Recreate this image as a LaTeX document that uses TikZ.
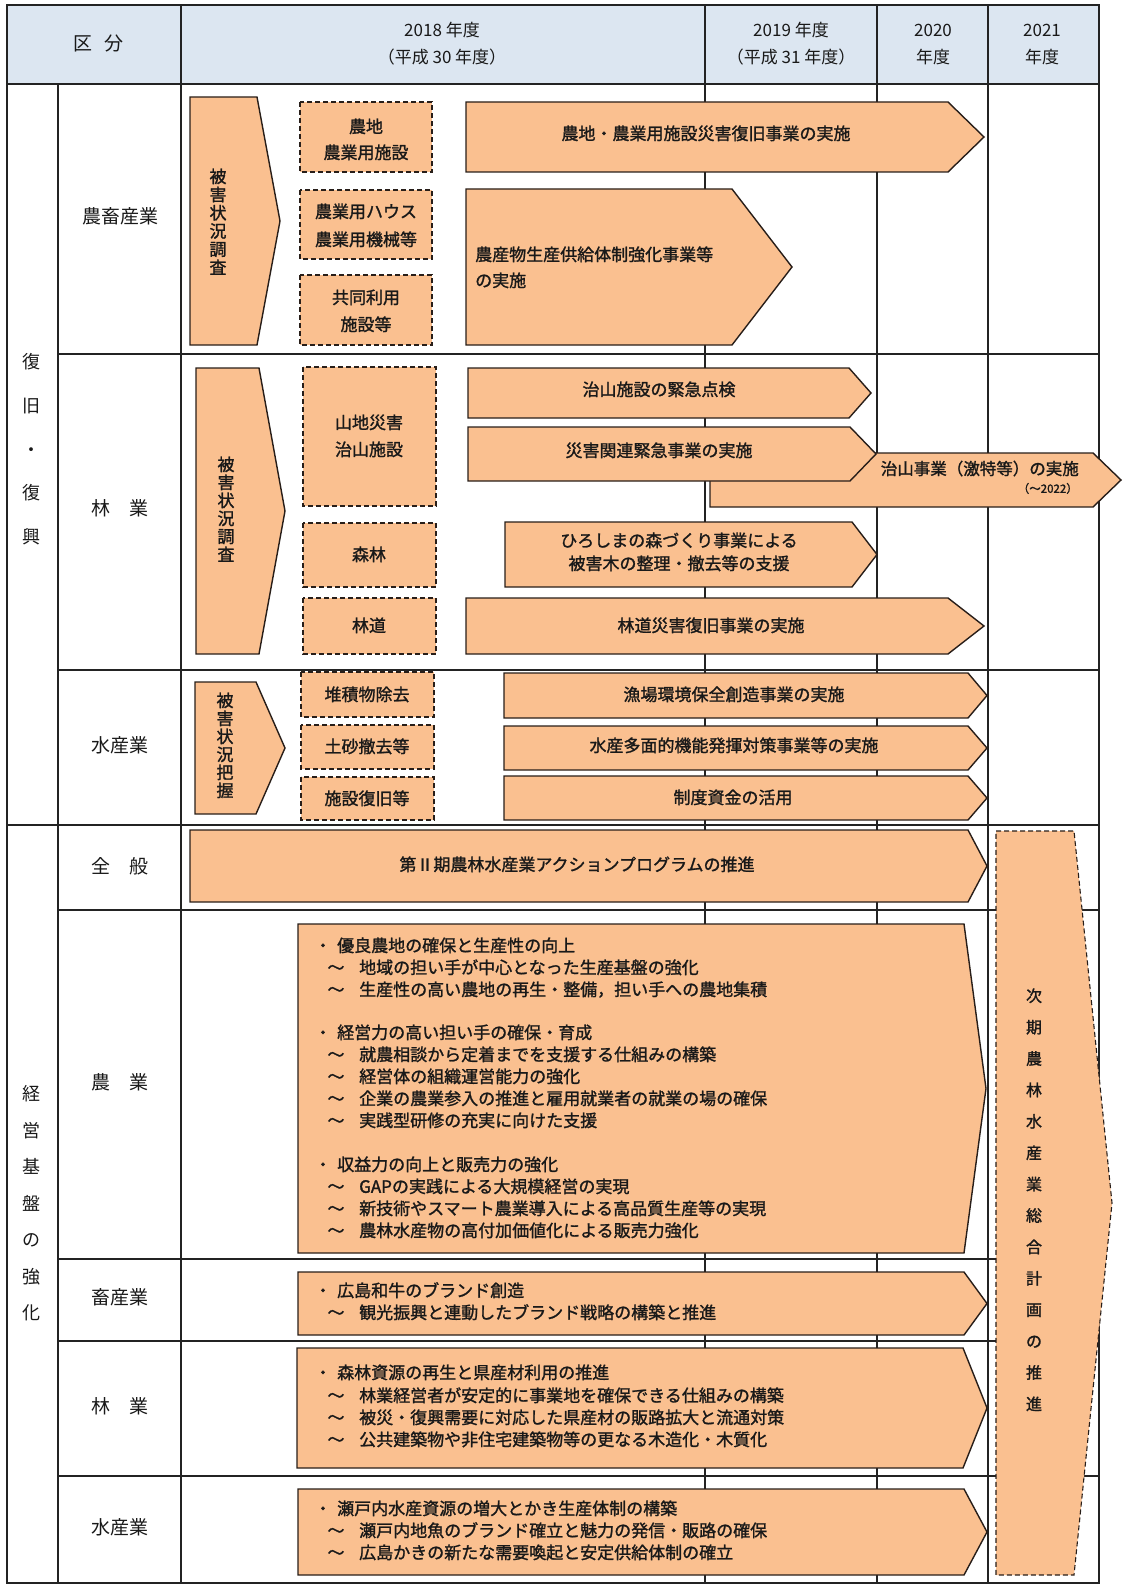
\documentclass[tikz,border=0pt]{standalone}
\usepackage{fontspec}
\setmainfont{Noto Sans CJK JP}
\newfontfamily\boxfont[FakeBold=1.4]{Noto Sans CJK JP}
\definecolor{orng}{RGB}{250,192,144}
\definecolor{hdr}{RGB}{220,230,241}
\definecolor{edge}{RGB}{40,30,25}
\definecolor{gridc}{RGB}{35,35,35}
\definecolor{txtc}{RGB}{25,25,25}
\tikzset{
  solidbox/.style={fill=orng, draw=edge, line width=1.4pt, line join=miter},
  dbox/.style={fill=orng, draw=edge, line width=1.1pt, dash pattern=on 5pt off 3pt},
  gridline/.style={draw=gridc, line width=1.1pt},
  plain/.style={inner sep=0pt, text=txtc, text height=0.88em, text depth=0.12em, font=\fontsize{17}{20}\selectfont},
  txt/.style={plain, font=\boxfont\fontsize{17}{20}\selectfont},
  lbl/.style={plain, font=\fontsize{19}{22}\selectfont},
  vchar/.style={plain, font=\boxfont\fontsize{17}{18}\selectfont},
  small/.style={plain, font=\boxfont\fontsize{11.5}{13}\selectfont},
}
% pentagon arrow: style, x1, x2, xtip, y1, y2
\newcommand\pentarrow[6]{\draw[#1] (#2,#5) -- (#3,#5) -- (#4,{(#5+#6)/2}) -- (#3,#6) -- (#2,#6) -- cycle;}
\newcommand\bulline[3]{\node[txt,anchor=west] (#1) at (337,#2) {#3}; \node[txt] (#1b) at (323,#2) {・};}
\newcommand\subline[3]{\node[txt,anchor=west] (#1) at (359,#2) {#3}; \node[txt] (#1b) at (336,#2) {～};}
\begin{document}
\begin{tikzpicture}[x=1pt,y=-1pt]
\useasboundingbox (0,0) rectangle (1145,1589);
% ---------- table ----------
\fill[hdr] (7,5) rectangle (1099,84);
\draw[gridline] (7,5) rectangle (1099,1583);
\draw[gridline] (7,84) -- (1099,84);
\draw[gridline] (58,84) -- (58,1583);
\foreach \x in {181,705,877,988} \draw[gridline] (\x,5) -- (\x,1583);
\foreach \y in {354,670,910,1259,1341,1476} \draw[gridline] (58,\y) -- (1099,\y);
\draw[gridline] (7,825) -- (1099,825);
% ---------- header ----------
\node[lbl] (hku) at (82.5,47) {区};
\node[lbl] (hbun) at (113.5,47) {分};
\node[plain] (h18a) at (442,33) {2018 年度};
\node[plain] (h18b) at (442,60) {（平成 30 年度）};
\node[plain] (h19a) at (791,33) {2019 年度};
\node[plain] (h19b) at (791,60) {（平成 31 年度）};
\node[plain] (h20a) at (933,33) {2020};
\node[plain] (h20b) at (933,60) {年度};
\node[plain] (h21a) at (1042,33) {2021};
\node[plain] (h21b) at (1042,60) {年度};
% ---------- left labels ----------
\foreach \c [count=\i] in {復,旧,・,復,興}
  \node[lbl,font=\fontsize{18}{20}\selectfont] (sa\i) at (32,{365+43.6*(\i-1)}) {\c};
\foreach \c [count=\i] in {経,営,基,盤,の,強,化}
  \node[lbl,font=\fontsize{18}{20}\selectfont] (sb\i) at (32,{1097+36.5*(\i-1)}) {\c};
\node[lbl] (r1) at (120,220) {農畜産業};
\node[lbl] (r2) at (120,512) {林　業};
\node[lbl] (r3) at (120,749) {水産業};
\node[lbl] (r4) at (120,870) {全　般};
\node[lbl] (r5) at (120,1086) {農　業};
\node[lbl] (r6) at (120,1301) {畜産業};
\node[lbl] (r7) at (120,1410) {林　業};
\node[lbl] (r8) at (120,1531) {水産業};
% ---------- 農畜産業 ----------
\pentarrow{solidbox}{190}{257}{280}{97}{345}
\foreach \c [count=\i] in {被,害,状,況,調,査}
  \node[vchar] (ca\i) at (218,{179+18.2*(\i-1)}) {\c};
\draw[dbox] (300,102) rectangle (432,172);
\node[txt] (d1a) at (366,129) {農地};
\node[txt] (d1b) at (366,155) {農業用施設};
\draw[dbox] (300,190) rectangle (432,259);
\node[txt] (d2a) at (366,214) {農業用ハウス};
\node[txt] (d2b) at (366,242) {農業用機械等};
\draw[dbox] (300,275) rectangle (432,345);
\node[txt] (d3a) at (366,300) {共同利用};
\node[txt] (d3b) at (366,327) {施設等};
\pentarrow{solidbox}{466}{948}{984}{102}{172}
\node[txt] (a1) at (706,136) {農地・農業用施設災害復旧事業の実施};
\pentarrow{solidbox}{466}{732}{792}{189}{345}
\node[txt,anchor=west] (a2a) at (475,257) {農産物生産供給体制強化事業等};
\node[txt,anchor=west] (a2b) at (475,283) {の実施};
% ---------- 林業 ----------
\pentarrow{solidbox}{196}{259}{285}{368}{654}
\foreach \c [count=\i] in {被,害,状,況,調,査}
  \node[vchar] (cb\i) at (226,{467+18*(\i-1)}) {\c};
\draw[dbox] (303,367) rectangle (436,506);
\node[txt] (d4a) at (369,425) {山地災害};
\node[txt] (d4b) at (369,452) {治山施設};
\draw[dbox] (303,523) rectangle (436,587);
\node[txt] (d5) at (369,557) {森林};
\draw[dbox] (303,598) rectangle (436,654);
\node[txt] (d6) at (369,628) {林道};
\pentarrow{solidbox}{468}{849}{871}{368}{418}
\node[txt] (a3) at (659,392) {治山施設の緊急点検};
\pentarrow{solidbox}{710}{1093}{1121}{453}{507}
\node[txt,anchor=east,font=\boxfont\fontsize{16.5}{19}\selectfont] (a5a) at (1079,471) {治山事業（激特等）の実施};
\node[small,anchor=east] (a5b) at (1078,489) {（～2022）};
\pentarrow{solidbox}{468}{850}{876}{427}{481}
\node[txt] (a4) at (659,453) {災害関連緊急事業の実施};
\pentarrow{solidbox}{505}{852}{877}{522}{587}
\node[txt] (a6a) at (679,543) {ひろしまの森づくり事業による};
\node[txt] (a6b) at (679,566) {被害木の整理・撤去等の支援};
\pentarrow{solidbox}{466}{948}{984}{598}{654}
\node[txt] (a7) at (711,628) {林道災害復旧事業の実施};
% ---------- 水産業 ----------
\pentarrow{solidbox}{195}{256}{285}{682}{814}
\foreach \c [count=\i] in {被,害,状,況,把,握}
  \node[vchar] (cc\i) at (225,{703+18*(\i-1)}) {\c};
\draw[dbox] (301,672) rectangle (434,717);
\node[txt] (d7) at (367,697) {堆積物除去};
\draw[dbox] (301,725) rectangle (434,769);
\node[txt] (d8) at (367,749) {土砂撤去等};
\draw[dbox] (301,777) rectangle (434,820);
\node[txt] (d9) at (367,801) {施設復旧等};
\pentarrow{solidbox}{504}{968}{987}{673}{718}
\node[txt] (a8) at (734,697) {漁場環境保全創造事業の実施};
\pentarrow{solidbox}{504}{968}{987}{726}{770}
\node[txt] (a9) at (734,748) {水産多面的機能発揮対策事業等の実施};
\pentarrow{solidbox}{504}{968}{987}{776}{820}
\node[txt] (a10) at (733,800) {制度資金の活用};
% ---------- 全般 ----------
\pentarrow{solidbox}{190}{968}{987}{830}{902}
\node[txt] (a11) at (577,867) {第Ⅱ期農林水産業アクションプログラムの推進};
% ---------- 農業 ----------
\pentarrow{solidbox}{298}{964}{986}{924}{1253}
\bulline{g1}{948}{優良農地の確保と生産性の向上}
\subline{g2}{970}{地域の担い手が中心となった生産基盤の強化}
\subline{g3}{992}{生産性の高い農地の再生・整備，担い手への農地集積}
\bulline{g4}{1035}{経営力の高い担い手の確保・育成}
\subline{g5}{1057}{就農相談から定着までを支援する仕組みの構築}
\subline{g6}{1079}{経営体の組織運営能力の強化}
\subline{g7}{1101}{企業の農業参入の推進と雇用就業者の就業の場の確保}
\subline{g8}{1123}{実践型研修の充実に向けた支援}
\bulline{g9}{1167}{収益力の向上と販売力の強化}
\subline{g10}{1189}{GAPの実践による大規模経営の実現}
\subline{g11}{1211}{新技術やスマート農業導入による高品質生産等の実現}
\subline{g12}{1233}{農林水産物の高付加価値化による販売力強化}
% ---------- 畜産業 ----------
\pentarrow{solidbox}{298}{964}{987}{1272}{1335}
\bulline{k1}{1293}{広島和牛のブランド創造}
\subline{k2}{1315}{観光振興と連動したブランド戦略の構築と推進}
% ---------- 林業 ----------
\pentarrow{solidbox}{297}{963}{987}{1348}{1468}
\bulline{f1}{1375}{森林資源の再生と県産材利用の推進}
\subline{f2}{1398}{林業経営者が安定的に事業地を確保できる仕組みの構築}
\subline{f3}{1420}{被災・復興需要に対応した県産材の販路拡大と流通対策}
\subline{f4}{1442}{公共建築物や非住宅建築物等の更なる木造化・木質化}
% ---------- 水産業 ----------
\pentarrow{solidbox}{298}{964}{987}{1489}{1575}
\bulline{s1}{1511}{瀬戸内水産資源の増大とかき生産体制の構築}
\subline{s2}{1533}{瀬戸内地魚のブランド確立と魅力の発信・販路の確保}
\subline{s3}{1555}{広島かきの新たな需要喚起と安定供給体制の確立}
% ---------- 次期 ----------
\pentarrow{dbox}{996}{1074}{1112}{831}{1575}
\foreach \c [count=\i] in {次,期,農,林,水,産,業,総,合,計,画,の,推,進}
  \node[vchar,font=\boxfont\fontsize{16}{18}\selectfont] (cn\i) at (1034,{998+31.4*(\i-1)}) {\c};
\end{tikzpicture}
\end{document}
